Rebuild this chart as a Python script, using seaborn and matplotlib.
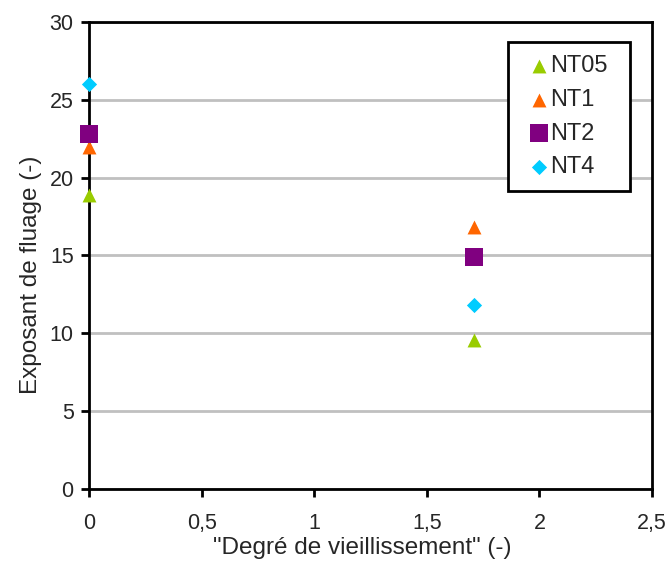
import matplotlib
matplotlib.use("Agg")
import matplotlib.pyplot as plt
import numpy as np
import pandas as pd
import seaborn as sns

# Data
series = ['NT05', 'NT1', 'NT2', 'NT4']
ageing = [0.0, 1.71]
nt05 = [18.9, 9.6]
nt1 = [22.0, 16.8]
nt2 = [22.8, 14.9]
nt4 = [26.0, 11.8]

colors = {'NT05': '#99CC00', 'NT1': '#FF6600', 'NT2': '#800080', 'NT4': '#00CCFF'}
markers = {'NT05': '^', 'NT1': '^', 'NT2': 's', 'NT4': 'D'}
sizes = {'NT05': 100, 'NT1': 100, 'NT2': 150, 'NT4': 60}

df = pd.DataFrame({
    'x': ageing * 4,
    'y': nt05 + nt1 + nt2 + nt4,
    'serie': [s for s in series for _ in ageing],
})

sns.set_style('white')
plt.rcParams['font.family'] = ['Liberation Sans', 'DejaVu Sans']

fig = plt.figure(figsize=(6.66, 5.63), dpi=100)
ax = fig.add_axes([0.1336, 0.1314, 0.979 - 0.1336, 0.961 - 0.1314])

for s in series:
    d = df[df['serie'] == s]
    sns.scatterplot(data=d, x='x', y='y', color=colors[s], marker=markers[s],
                    s=sizes[s], linewidth=0, ax=ax, label=s, clip_on=False, zorder=3)

ax.set_xlim(0, 2.5)
ax.set_ylim(0, 30)
ax.set_xticks(np.arange(0, 2.51, 0.5))
ax.set_xticklabels(['0', '0,5', '1', '1,5', '2', '2,5'])
ax.set_yticks(np.arange(0, 31, 5))
ax.yaxis.grid(True, color='#c0c0c0', linewidth=2)
ax.set_axisbelow(True)
for sp in ax.spines.values():
    sp.set_color('black')
    sp.set_linewidth(2)
ax.tick_params(axis='both', direction='out', length=6, width=2, color='black',
               labelsize=15.5, bottom=True, left=True)
ax.tick_params(axis='x', pad=11)
ax.tick_params(axis='y', pad=5)
ax.set_xlabel('"Degré de vieillissement" (-)', fontsize=17.5)
ax.set_ylabel('Exposant de fluage (-)', fontsize=17.5)
ax.xaxis.set_label_coords(0.486, -0.102)
ax.yaxis.set_label_coords(-0.083, 0.458)

leg = ax.legend(loc='upper left', bbox_to_anchor=(0.744, 0.957, 0.2167, 0),
                mode='expand', borderaxespad=0,
                fontsize=17, frameon=True, fancybox=False, framealpha=1,
                edgecolor='black', handlelength=1.5, handletextpad=-0.25,
                labelspacing=0.5, borderpad=0.55, markerscale=1.0)
leg.get_frame().set_linewidth(2)

fig.savefig('out.png', dpi=100)
